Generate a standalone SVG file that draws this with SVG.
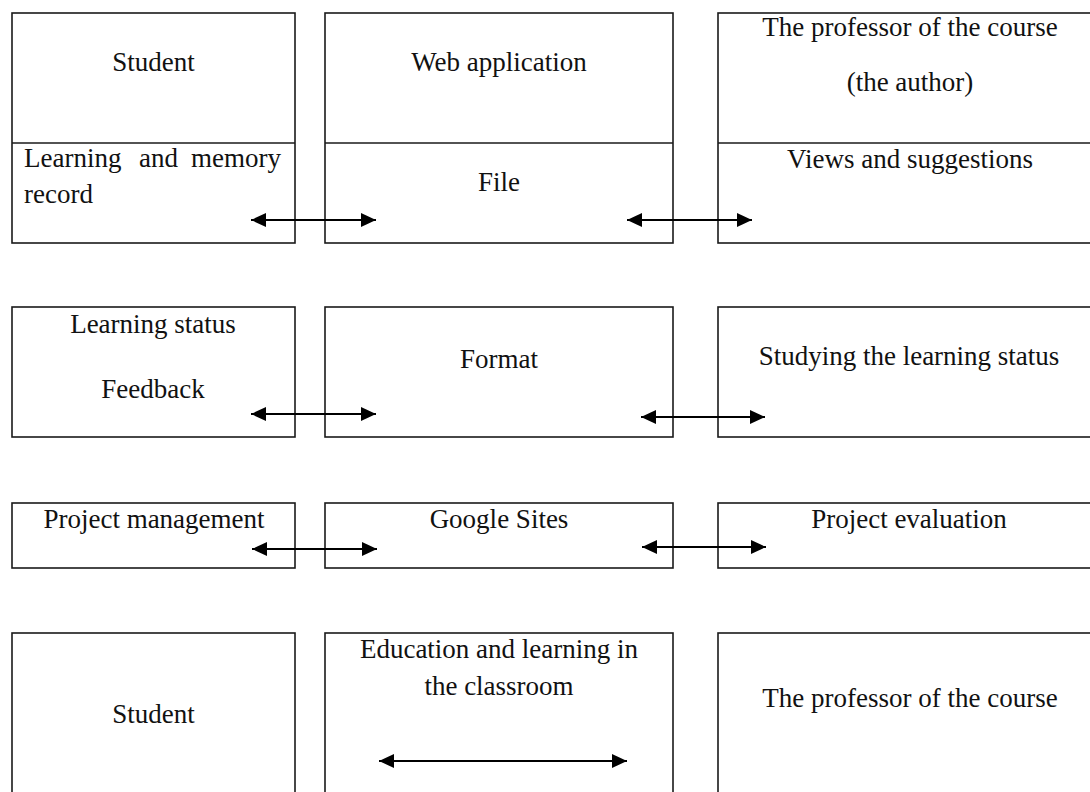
<svg xmlns="http://www.w3.org/2000/svg" width="1090" height="792" viewBox="0 0 1090 792">
<style>
.box{fill:none;stroke:#1a1a1a;stroke-width:1.6}
.t{font-family:"Liberation Serif","Times New Roman",serif;font-size:27px;fill:#111}
.c{text-anchor:middle}
.conn{stroke:#000;stroke-width:2.2;fill:none;marker-start:url(#ah);marker-end:url(#ah)}
</style>
<defs>
<marker id="ah" markerUnits="userSpaceOnUse" markerWidth="16" markerHeight="14" refX="15" refY="7" orient="auto-start-reverse">
<path d="M0,0 L15,7 L0,14 z" fill="#000"/>
</marker>
</defs>
<rect width="1090" height="792" fill="#fff"/>
<g id="row1-student">
<rect class="box" x="12" y="13" width="283" height="230"/>
<line class="box" x1="12" y1="143" x2="295" y2="143"/>
<text class="t c" x="153.5" y="71">Student</text>
<text class="t" x="24" y="167">Learning</text>
<text class="t" x="139" y="167">and</text>
<text class="t" x="281" y="167" text-anchor="end">memory</text>
<text class="t" x="24" y="203">record</text>
</g>
<g id="row1-web">
<rect class="box" x="325" y="13" width="348" height="230"/>
<line class="box" x1="325" y1="143" x2="673" y2="143"/>
<text class="t c" x="499" y="71">Web application</text>
<text class="t c" x="499" y="191">File</text>
</g>
<g id="row1-professor">
<rect class="box" x="718" y="13" width="390" height="230"/>
<line class="box" x1="718" y1="143" x2="1100" y2="143"/>
<text class="t c" x="910" y="36">The professor of the course</text>
<text class="t c" x="910" y="91">(the author)</text>
<text class="t c" x="910" y="168">Views and suggestions</text>
</g>
<g id="row2-feedback">
<rect class="box" x="12" y="307" width="283" height="130"/>
<text class="t c" x="153" y="333">Learning status</text>
<text class="t c" x="153" y="398">Feedback</text>
</g>
<g id="row2-format">
<rect class="box" x="325" y="307" width="348" height="130"/>
<text class="t c" x="499" y="368">Format</text>
</g>
<g id="row2-studying">
<rect class="box" x="718" y="307" width="390" height="130"/>
<text class="t c" x="909" y="365">Studying the learning status</text>
</g>
<g id="row3-pm">
<rect class="box" x="12" y="503" width="283" height="65"/>
<text class="t c" x="154" y="528">Project management</text>
</g>
<g id="row3-sites">
<rect class="box" x="325" y="503" width="348" height="65"/>
<text class="t c" x="499" y="528">Google Sites</text>
</g>
<g id="row3-eval">
<rect class="box" x="718" y="503" width="390" height="65"/>
<text class="t c" x="909" y="528">Project evaluation</text>
</g>
<g id="row4-student">
<rect class="box" x="12" y="633" width="283" height="200"/>
<text class="t c" x="153.5" y="723">Student</text>
</g>
<g id="row4-classroom">
<rect class="box" x="325" y="633" width="348" height="200"/>
<text class="t c" x="499" y="658">Education and learning in</text>
<text class="t c" x="499" y="695">the classroom</text>
</g>
<g id="row4-professor">
<rect class="box" x="718" y="633" width="390" height="200"/>
<text class="t c" x="910" y="707">The professor of the course</text>
</g>
<g id="connectors">
<line class="conn" x1="251" y1="220" x2="376" y2="220"/>
<line class="conn" x1="627" y1="220" x2="752" y2="220"/>
<line class="conn" x1="251" y1="414" x2="376" y2="414"/>
<line class="conn" x1="641" y1="417" x2="765" y2="417"/>
<line class="conn" x1="252" y1="549" x2="377" y2="549"/>
<line class="conn" x1="642" y1="547" x2="766" y2="547"/>
<line class="conn" x1="379" y1="761" x2="627" y2="761"/>
</g>
</svg>
